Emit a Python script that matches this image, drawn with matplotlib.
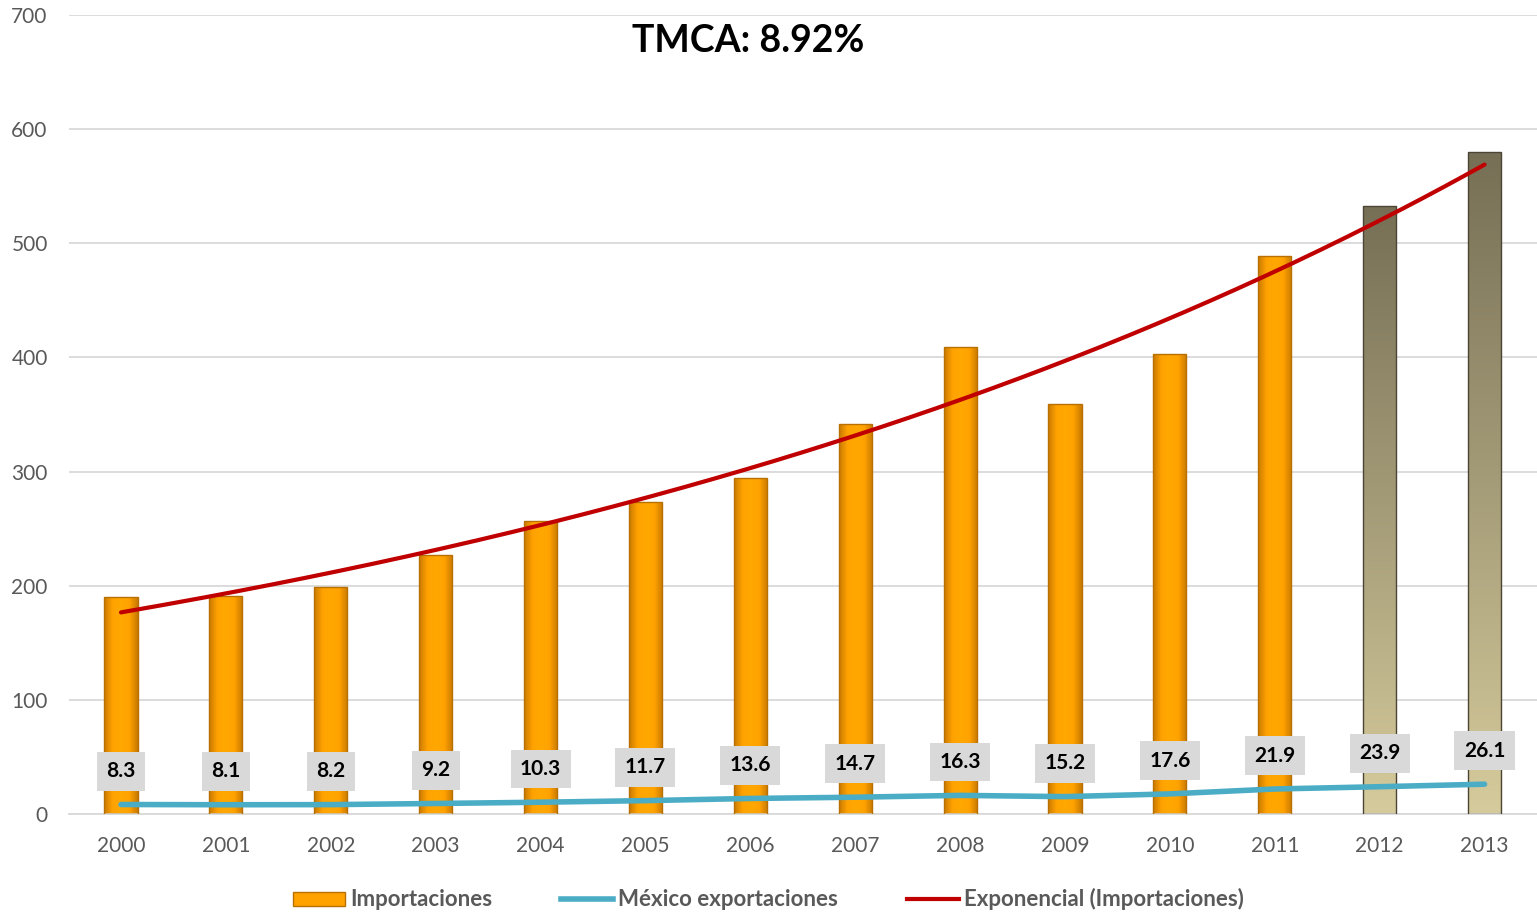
import matplotlib
matplotlib.use("Agg")
import matplotlib.pyplot as plt
import numpy as np
from matplotlib.colors import LinearSegmentedColormap
from matplotlib.lines import Line2D
from matplotlib.patches import Patch

years = ["2000", "2001", "2002", "2003", "2004", "2005", "2006",
         "2007", "2008", "2009", "2010", "2011", "2012", "2013"]
importaciones = [190, 191, 199, 227, 257, 273, 294, 342, 409, 359, 403, 489, 533, 580]
exportaciones = [8.3, 8.1, 8.2, 9.2, 10.3, 11.7, 13.6, 14.7, 16.3, 15.2, 17.6, 21.9, 23.9, 26.1]
projected = [False] * 12 + [True, True]
title = "TMCA: 8.92%"

C_ORANGE = "#FFA200"
C_CYAN = "#4BACC6"
C_RED = "#C00000"
C_TEXT = "#595959"
FONT = ["Lato", "DejaVu Sans"]

plt.rcParams["font.family"] = FONT

fig = plt.figure(figsize=(15.37, 9.15), dpi=100)
ax = fig.add_axes([0.0446, 0.1104, 0.9554, 0.8732])

x = np.arange(len(years))
bars = ax.bar(x, importaciones, width=0.315, color="none", edgecolor="none", zorder=2)

orange_cm = LinearSegmentedColormap.from_list(
    "org", ["#C87800", "#FFA200", "#FFA800", "#FFA200", "#C87800"])
olive_cm = LinearSegmentedColormap.from_list("olv", ["#D6CB9C", "#A49C78", "#776F55"])
for bar, proj in zip(bars, projected):
    x0, w, h = bar.get_x(), bar.get_width(), bar.get_height()
    if proj:
        grad = np.linspace(0, 1, 256).reshape(-1, 1)
        cmap, edge = olive_cm, "#4A4535"
    else:
        grad = np.linspace(0, 1, 256).reshape(1, -1)
        cmap, edge = orange_cm, "#B87000"
    im = ax.imshow(grad, cmap=cmap, aspect="auto", extent=(x0, x0 + w, 0, h),
                   origin="lower", zorder=2)
    im.set_clip_path(bar)
    ax.add_patch(plt.Rectangle((x0, 0), w, h, fill=False, edgecolor=edge,
                               linewidth=1.0, zorder=3))

ax.plot(x, exportaciones, color=C_CYAN, linewidth=4, solid_capstyle="round", zorder=4)

# exponential trendline fitted on imports
b, a = np.polyfit(x, np.log(importaciones), 1)
xs = np.linspace(0, len(years) - 1, 200)
ax.plot(xs, np.exp(a + b * xs), color=C_RED, linewidth=3,
        solid_capstyle="round", zorder=5)

for xi, v in zip(x, exportaciones):
    ax.annotate(f"{v:.1f}", xy=(xi, v), xytext=(0, 24), textcoords="offset points",
                ha="center", va="center", fontsize=15, fontweight="bold", color="black",
                bbox=dict(boxstyle="square,pad=0.45", facecolor="#D9D9D9",
                          edgecolor="none"), zorder=6)

ax.set_xlim(-0.5, len(years) - 0.5)
ax.set_ylim(0, 700)
ax.set_yticks(range(0, 701, 100))
ax.set_xticks(x)
ax.set_xticklabels(years)
ax.tick_params(axis="both", length=0, labelsize=15, labelcolor=C_TEXT)
ax.tick_params(axis="x", pad=16)
ax.tick_params(axis="y", pad=15)
ax.grid(axis="y", color="#D9D9D9", linewidth=1.3, zorder=0)
ax.set_axisbelow(True)
for s in ["top", "right", "left"]:
    ax.spines[s].set_visible(False)
ax.spines["bottom"].set_color("#D9D9D9")
ax.spines["bottom"].set_linewidth(1.3)

fig.text(0.487, 0.955, title, ha="center", va="center", fontsize=27,
         fontweight="bold", color="black")

handles = [Patch(facecolor=C_ORANGE, edgecolor="#B87000"),
           Line2D([], [], color=C_CYAN, linewidth=4),
           Line2D([], [], color=C_RED, linewidth=3)]
labels = ["Importaciones", "México exportaciones", "Exponencial (Importaciones)"]
leg = fig.legend(handles, labels, loc="center", bbox_to_anchor=(0.5, 0.017), ncol=3,
                 frameon=False, fontsize=16, columnspacing=3.1, handlelength=2.35,
                 handletextpad=0.23, handleheight=0.6)
for t in leg.get_texts():
    t.set_color(C_TEXT)
    t.set_fontweight("bold")

fig.savefig("out.png", dpi=100, facecolor="white")
